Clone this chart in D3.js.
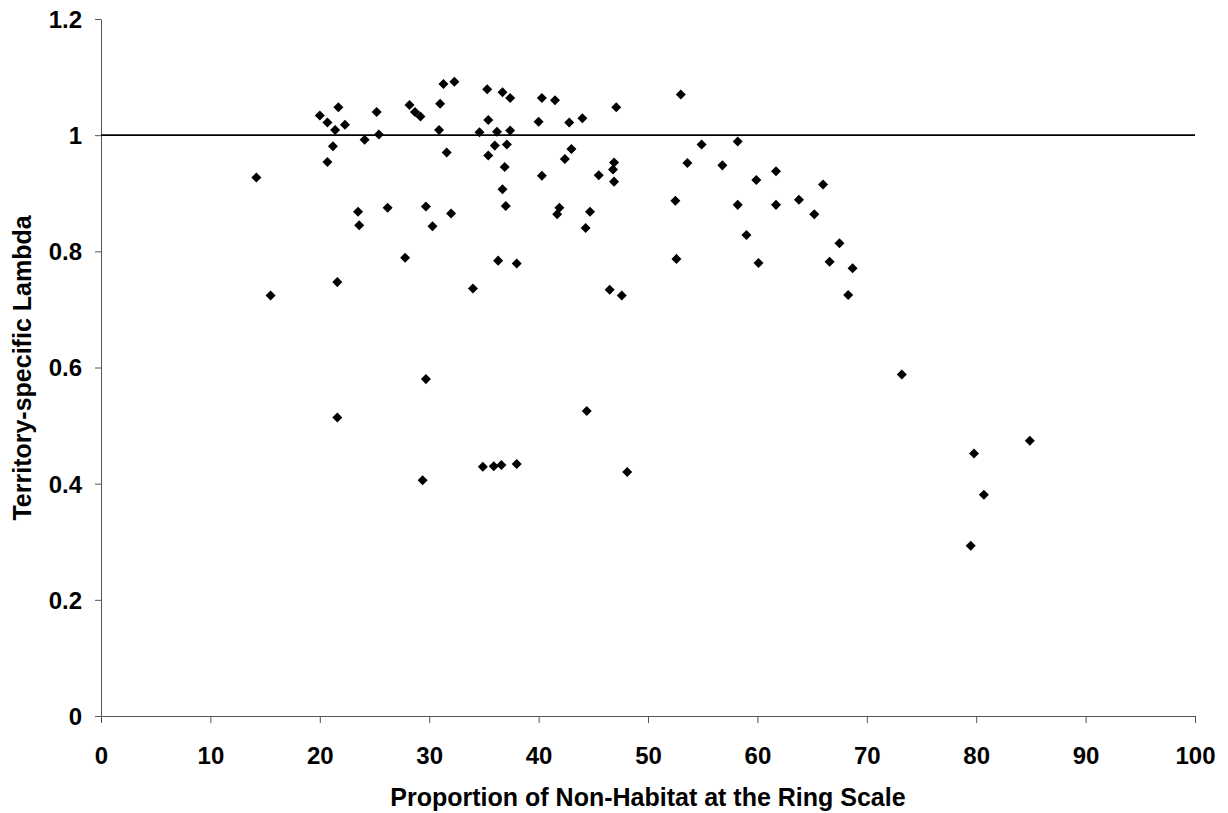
<!DOCTYPE html>
<html><head><meta charset="utf-8">
<script src="https://cdn.jsdelivr.net/npm/d3@7"></script>
<style>body{margin:0;background:#fff}</style>
</head><body><svg id="c" width="1228" height="813"></svg>
<script>
const xs = [14.2,15.5,20.0,20.7,20.7,21.2,21.4,21.7,21.6,21.6,22.3,23.5,23.6,24.1,25.2,25.4,26.2,27.8,28.2,28.7,29.2,29.7,29.7,29.4,30.3,30.9,31.0,31.3,31.6,32.0,32.3,34.0,34.6,34.9,35.3,35.4,35.4,35.9,36.0,36.2,36.3,36.6,36.7,36.7,36.9,37.1,37.0,37.4,37.4,38.0,38.0,40.0,40.3,40.3,41.5,41.7,41.9,42.4,42.8,43.0,44.0,44.3,44.4,44.7,45.5,46.5,46.8,46.9,46.9,47.1,47.6,48.1,52.5,52.6,53.0,53.6,54.9,56.8,58.2,58.2,59.0,59.9,60.1,61.7,61.7,63.8,65.2,66.0,66.6,67.5,68.3,68.7,73.2,79.5,79.8,80.7,84.9];
const ys = [0.927,0.724,1.034,1.022,0.954,0.981,1.009,1.048,0.747,0.514,1.018,0.868,0.845,0.992,1.040,1.001,0.875,0.789,1.052,1.040,1.032,0.877,0.580,0.406,0.843,1.009,1.054,1.088,0.970,0.865,1.092,0.736,1.005,0.429,1.079,1.026,0.965,0.430,0.982,1.006,0.784,0.432,1.074,0.907,0.945,0.984,0.878,1.064,1.008,0.779,0.434,1.023,1.064,0.930,1.060,0.864,0.875,0.959,1.022,0.976,1.029,0.840,0.525,0.868,0.931,0.734,0.941,0.953,0.920,1.048,0.724,0.420,0.887,0.787,1.070,0.952,0.984,0.948,0.989,0.880,0.828,0.923,0.780,0.938,0.880,0.889,0.864,0.915,0.782,0.814,0.725,0.771,0.588,0.293,0.452,0.381,0.474];
const xTicks = [0,10,20,30,40,50,60,70,80,90,100];
const yTicks = [0,0.2,0.4,0.6,0.8,1,1.2];
const refLine = 1;

const svg = d3.select("#c");
const x = d3.scaleLinear().domain([0,100]).range([101,1195]);
const y = d3.scaleLinear().domain([0,1.2]).range([716,19]);
const font = "'Liberation Sans', Arial, sans-serif";

const xa = svg.append("g").attr("transform","translate(0,716)")
  .call(d3.axisBottom(x).tickValues(xTicks).tickSize(7).tickSizeOuter(0).tickFormat(d3.format("d")));
const ya = svg.append("g").attr("transform","translate(101,0)")
  .call(d3.axisLeft(y).tickValues(yTicks).tickSize(6).tickSizeOuter(0).tickFormat(d => d === 0 ? "0" : d === 1 ? "1" : d3.format(".1f")(d)));
[xa, ya].forEach(a => {
  a.attr("font-size", null).attr("font-family", null);
  a.selectAll("path,line").attr("stroke","#555").attr("stroke-width",1);
  a.selectAll("text").attr("fill","#000").attr("font-family",font).attr("font-weight","bold").attr("font-size","24px");
});
xa.selectAll("text").attr("y",0).attr("dy",null).attr("dominant-baseline","central").attr("transform","translate(0,39)");
ya.selectAll("text").attr("x",-19).attr("dy","0.35em");

svg.append("line").attr("x1",x(0)).attr("x2",x(100)).attr("y1",y(refLine)).attr("y2",y(refLine))
  .attr("stroke","#000").attr("stroke-width",1.6);

svg.append("g").selectAll("path").data(xs.map((v,i)=>[v,ys[i]])).join("path")
  .attr("d", d3.symbol().type(d3.symbolDiamond2).size(64))
  .attr("transform", d => `translate(${x(d[0])},${y(d[1])})`)
  .attr("fill","#000");

svg.append("text").attr("x",648).attr("y",797).attr("dominant-baseline","central").attr("text-anchor","middle")
  .attr("font-family",font).attr("font-weight","bold").attr("font-size","25px")
  .text("Proportion of Non-Habitat at the Ring Scale");
svg.append("text").attr("transform","translate(22,368) rotate(-90)").attr("dominant-baseline","central").attr("text-anchor","middle")
  .attr("font-family",font).attr("font-weight","bold").attr("font-size","25px")
  .text("Territory-specific Lambda");
</script></body></html>
